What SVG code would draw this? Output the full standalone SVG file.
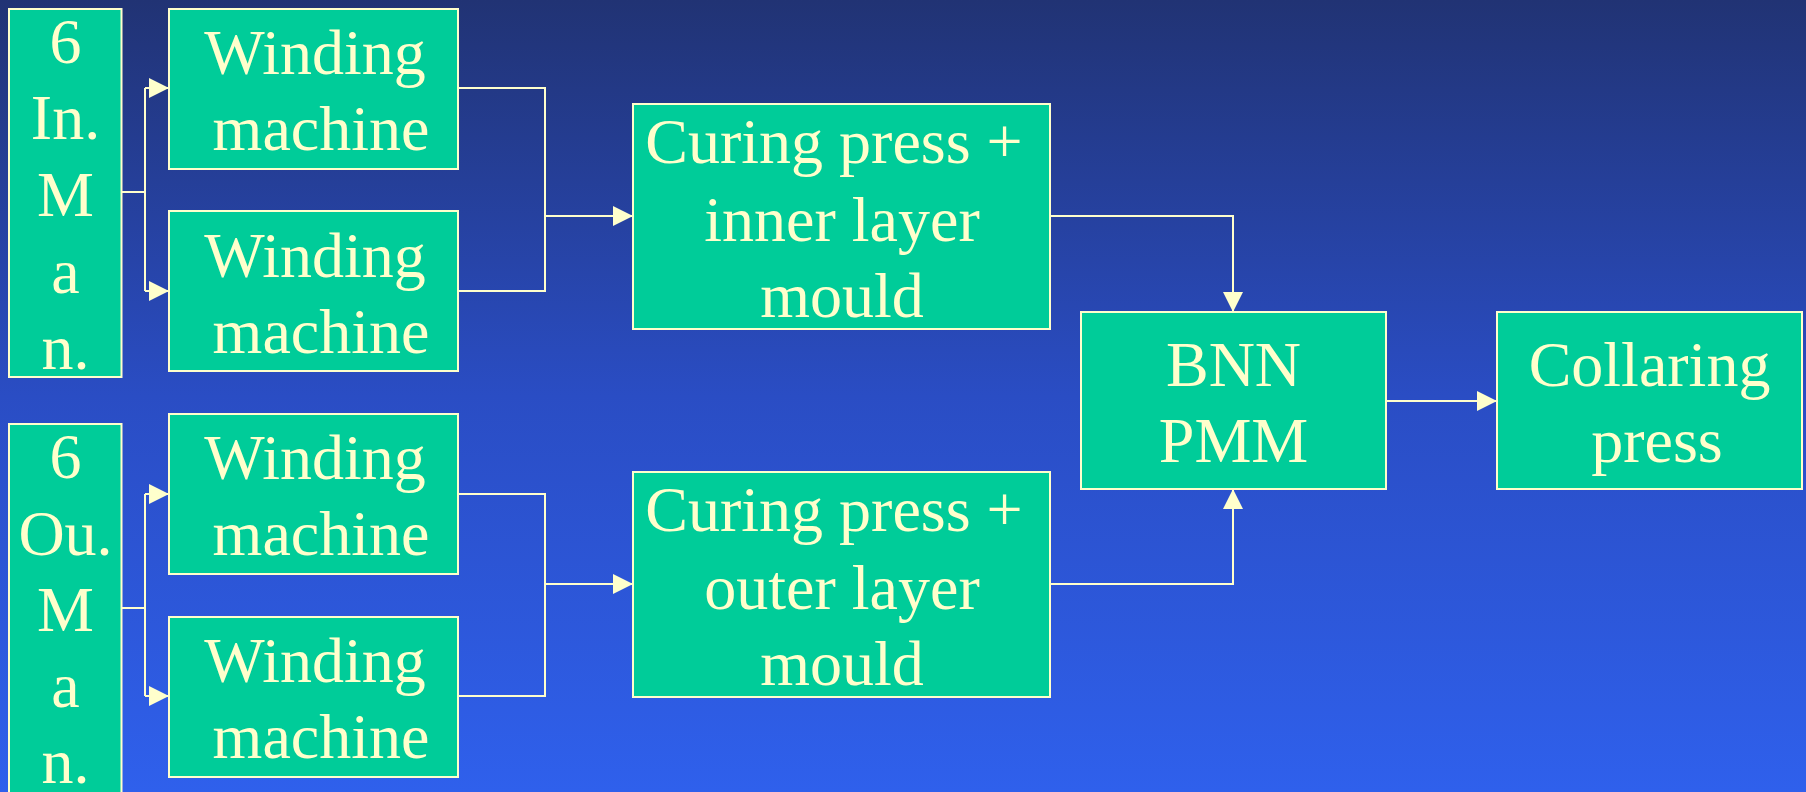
<svg xmlns="http://www.w3.org/2000/svg" width="1806" height="792" viewBox="0 0 1806 792">
<defs>
<linearGradient id="bg" x1="0" y1="0" x2="0" y2="1">
<stop offset="0" stop-color="#213374"/>
<stop offset="0.5" stop-color="#2A4DC4"/>
<stop offset="1" stop-color="#2F60EC"/>
</linearGradient>
<marker id="ah" viewBox="0 0 20 20" refX="20" refY="10" markerWidth="20" markerHeight="20" markerUnits="userSpaceOnUse" orient="auto">
<path d="M0,0 L20,10 L0,20 Z" fill="#FFFFCC"/>
</marker>
<style>
.box{fill:#00CC99;stroke:#FFFFCC;stroke-width:2}
.t{font-family:"Liberation Serif","Times New Roman",serif;font-size:64px;fill:#FFFFCC;text-anchor:middle}
.c{fill:none;stroke:#FFFFCC;stroke-width:2}
.a{fill:none;stroke:#FFFFCC;stroke-width:2;marker-end:url(#ah)}
</style>
</defs>
<rect x="0" y="0" width="1806" height="792" fill="url(#bg)"/>

<g id="connectors">
<path class="c" d="M121.5,192 H145 M145,88 V291"/>
<path class="a" d="M145,88 H169"/>
<path class="a" d="M145,291 H169"/>
<path class="c" d="M458,88 H545 V291 H458"/>
<path class="a" d="M545,216 H633"/>
<path class="c" d="M121.5,608 H145 M145,494 V696"/>
<path class="a" d="M145,494 H169"/>
<path class="a" d="M145,696 H169"/>
<path class="c" d="M458,494 H545 V696 H458"/>
<path class="a" d="M545,584 H633"/>
<path class="a" d="M1050,216 H1233 V312"/>
<path class="a" d="M1050,584 H1233 V489"/>
<path class="a" d="M1386,401 H1497"/>
</g>

<g id="inner-man">
<rect class="box" x="9" y="9" width="112.5" height="368"/>
<text class="t"><tspan x="65.5" y="63">6</tspan><tspan x="65.5" y="139">In.</tspan><tspan x="65.5" y="216">M</tspan><tspan x="65.5" y="293">a</tspan><tspan x="65.5" y="369">n.</tspan></text>
</g>
<g id="winding-1">
<rect class="box" x="169" y="9" width="289" height="160"/>
<text class="t"><tspan x="315" y="74">Winding</tspan><tspan x="321" y="150">machine</tspan></text>
</g>
<g id="winding-2">
<rect class="box" x="169" y="211" width="289" height="160"/>
<text class="t"><tspan x="315" y="277">Winding</tspan><tspan x="321" y="353">machine</tspan></text>
</g>
<g id="outer-man">
<rect class="box" x="9" y="424" width="112.5" height="380"/>
<text class="t"><tspan x="65.5" y="478">6</tspan><tspan x="65.5" y="555">Ou.</tspan><tspan x="65.5" y="631">M</tspan><tspan x="65.5" y="707">a</tspan><tspan x="65.5" y="783">n.</tspan></text>
</g>
<g id="winding-3">
<rect class="box" x="169" y="414" width="289" height="160"/>
<text class="t"><tspan x="315" y="479">Winding</tspan><tspan x="321" y="555">machine</tspan></text>
</g>
<g id="winding-4">
<rect class="box" x="169" y="617" width="289" height="160"/>
<text class="t"><tspan x="315" y="682">Winding</tspan><tspan x="321" y="758">machine</tspan></text>
</g>
<g id="curing-inner">
<rect class="box" x="633" y="104" width="417" height="225"/>
<text class="t"><tspan x="834" y="163">Curing press +</tspan><tspan x="842" y="241">inner layer</tspan><tspan x="842" y="317">mould</tspan></text>
</g>
<g id="curing-outer">
<rect class="box" x="633" y="472" width="417" height="225"/>
<text class="t"><tspan x="834" y="531">Curing press +</tspan><tspan x="842" y="609">outer layer</tspan><tspan x="842" y="685">mould</tspan></text>
</g>
<g id="bnn-pmm">
<rect class="box" x="1081" y="312" width="305" height="177"/>
<text class="t"><tspan x="1233.5" y="386">BNN</tspan><tspan x="1233.5" y="462">PMM</tspan></text>
</g>
<g id="collaring">
<rect class="box" x="1497" y="312" width="305" height="177"/>
<text class="t"><tspan x="1649.5" y="386">Collaring</tspan><tspan x="1657" y="462">press</tspan></text>
</g>
</svg>
